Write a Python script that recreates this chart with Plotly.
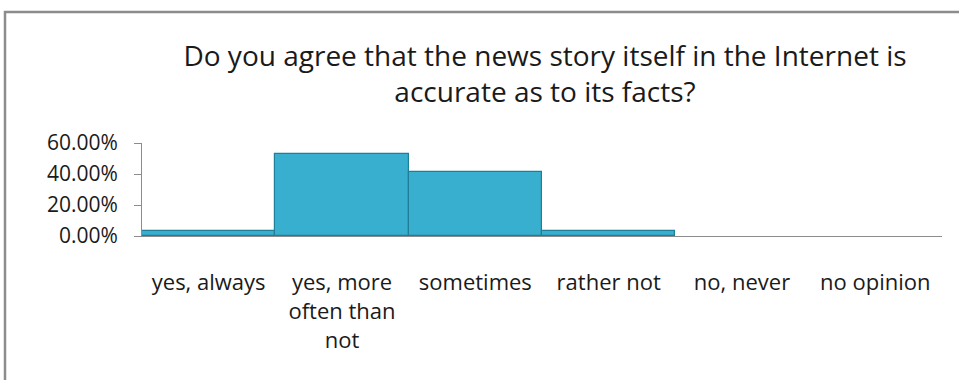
import plotly.graph_objects as go

# Survey answers and share of respondents
categories = ["yes, always", "yes, more<br>often than<br>not", "sometimes",
              "rather not", "no, never", "no opinion"]
shares = [0.0294, 0.5294, 0.4118, 0.0294, 0.0, 0.0]
y_ticks = [0.0, 0.2, 0.4, 0.6]

title_text = ("Do you agree that the news story itself in the Internet is<br>"
              "accurate as to its facts?")

W, H = 959, 380
ML, MR, MT, MB = 142, 17, 143, 144
FONT = "'Open Sans', Lato, sans-serif"
TEXT = "#1a1a1a"

# Empty categories get no bar outline
edge_widths = [1.2 if v > 0 else 0 for v in shares]

fig = go.Figure(
    go.Bar(
        x=categories,
        y=shares,
        marker=dict(color="#38AFCF", line=dict(color="#1F7E98", width=edge_widths)),
        hoverinfo="x+y",
    )
)

# Chart frame drawn in paper coordinates converted from pixel positions
pw, ph = W - ML - MR, H - MT - MB
def px_x(v):
    return (v - ML) / pw
def px_y(v):
    return (H - MB - v) / ph

fig.add_shape(
    type="rect", xref="paper", yref="paper",
    x0=px_x(5), x1=px_x(W + 20), y0=px_y(H + 20), y1=px_y(12),
    line=dict(color="#8C8C8C", width=2.5), fillcolor="rgba(0,0,0,0)", layer="below",
)

fig.update_layout(
    width=W, height=H,
    margin=dict(l=ML, r=MR, t=MT, b=MB),
    paper_bgcolor="white", plot_bgcolor="white",
    bargap=0,
    showlegend=False,
    font=dict(family=FONT, color=TEXT, size=21),
    title=dict(
        text=title_text, x=545 / W, xanchor="center",
        y=1 - 66 / H, yanchor="top",
        font=dict(size=28, family=FONT, color=TEXT),
    ),
)

fig.update_yaxes(
    range=[0, 0.6], tickvals=y_ticks, tickformat=".2%",
    showgrid=False, zeroline=False,
    showline=True, linecolor="#8C8C8C", linewidth=1,
    ticks="outside", ticklen=7, tickcolor="#8C8C8C",
    ticklabelstandoff=12,
    tickfont=dict(size=21, family=FONT, color=TEXT),
)
fig.update_xaxes(
    showgrid=False, zeroline=False,
    showline=True, linecolor="#8C8C8C", linewidth=1,
    ticks="", ticklabelstandoff=27,
    tickfont=dict(size=22, family=FONT, color=TEXT),
    tickangle=0,
)

fig.write_html("out.html")
